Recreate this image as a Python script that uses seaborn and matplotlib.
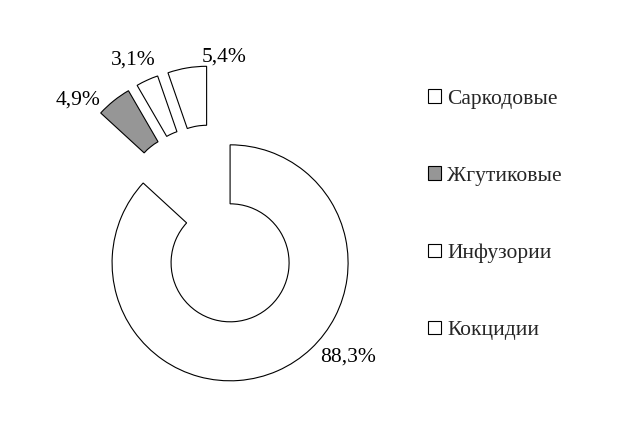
import seaborn as sns
import matplotlib.pyplot as plt
from matplotlib.patches import Patch

# legend order
categories = ['Саркодовые', 'Жгутиковые', 'Инфузории', 'Кокцидии']
values = [5.4, 4.9, 3.1, 88.3]
colors = ['white', '#969696', 'white', 'white']
# order of slices clockwise from 12 o'clock
pie_order = [3, 1, 2, 0]

sns.set_theme(style='white')
plt.rcParams['font.family'] = ['Liberation Serif', 'DejaVu Serif']

fig = plt.figure(figsize=(6.41, 4.25), dpi=100)
ax = fig.add_axes([0, 0, 1, 1])

pie_vals = [values[i] for i in pie_order]
pie_cols = [colors[i] for i in pie_order]
wedges, _ = ax.pie(pie_vals, colors=pie_cols, startangle=90, counterclock=False,
                   explode=[0.35] * 4, radius=1.0,
                   wedgeprops=dict(width=0.5, edgecolor='black', linewidth=0.8))

def fmt(v):
    return f"{v:.1f}".replace('.', ',') + '%'

# label spots (data units), same order as categories
label_pos = [(0.09, 1.42), (-1.15, 1.06), (-0.68, 1.40), (1.14, -1.12)]
for v, (x, y) in zip(values, label_pos):
    ax.text(x, y, fmt(v), ha='center', va='center', fontsize=15.5, color='black')

ax.set_xlim(-1.809, 3.623)
ax.set_ylim(-1.695, 1.907)
ax.set_aspect('auto')
ax.axis('off')

handles = [Patch(facecolor=c, edgecolor='black', linewidth=0.8) for c in colors]
ax.legend(handles, categories, loc='upper left', bbox_to_anchor=(0.6545, 0.81),
          frameon=False, fontsize=15.5, handlelength=0.58, handleheight=0.58,
          handletextpad=0.3, labelspacing=2.68, borderaxespad=0)

fig.savefig('out.png', dpi=100, facecolor='white')
